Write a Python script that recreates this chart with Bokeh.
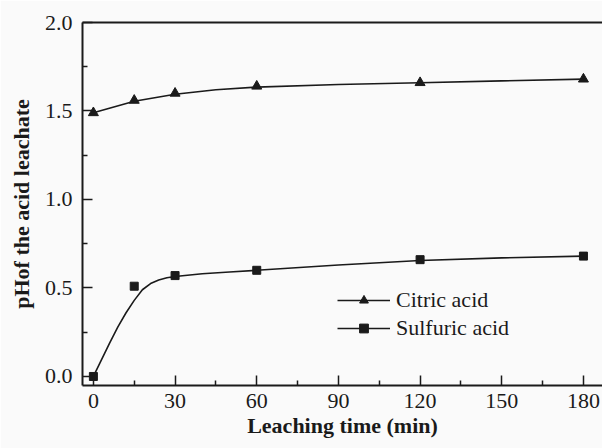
from bokeh.plotting import figure
from bokeh.models import (Range1d, LinearAxis, FixedTicker, Legend, LegendItem,
                          CustomJSTickFormatter)
from bokeh.embed import file_html
from bokeh.resources import INLINE

# measured points
time_min = [0, 15, 30, 60, 120, 180]
citric = [1.49, 1.56, 1.60, 1.64, 1.66, 1.68]
sulfuric = [0.00, 0.51, 0.57, 0.60, 0.66, 0.68]

# fitted curves
fit_time_citric = [0, 15, 30, 45, 60, 90, 120, 150, 180]
fit_citric = [1.49, 1.555, 1.595, 1.62, 1.635, 1.65, 1.66, 1.67, 1.68]
fit_time_sulf = [0, 3, 6, 9, 12, 15, 18, 21, 24, 27, 30, 40, 50, 60, 90, 120, 150, 180]
fit_sulf = [0.0, 0.095, 0.19, 0.28, 0.36, 0.43, 0.49, 0.525, 0.545, 0.558, 0.565,
            0.58, 0.59, 0.60, 0.63, 0.655, 0.67, 0.68]

x_ticks = [0, 30, 60, 90, 120, 150, 180]
x_minor = [15, 45, 75, 105, 135, 165]
y_ticks = [0.0, 0.5, 1.0, 1.5, 2.0]
y_minor = [0.25, 0.75, 1.25, 1.75]

FONT = "Liberation Serif"
BG = "#fafafa"
INK = "#1a1a1a"

p = figure(frame_width=520, frame_height=363, output_backend="svg", toolbar_location=None,
           x_range=Range1d(-4.0, 187.0), y_range=Range1d(-0.051, 2.0),
           min_border_left=82, min_border_right=0, min_border_top=22, min_border_bottom=63)
p.background_fill_color = BG
p.border_fill_color = BG
p.outline_line_color = None
p.grid.visible = False

l1 = p.line(fit_time_citric, fit_citric, line_color=INK, line_width=1.6)
s1 = p.scatter(time_min, citric, marker="triangle", size=10, fill_color=INK, line_color=INK)
l2 = p.line(fit_time_sulf, fit_sulf, line_color=INK, line_width=1.6)
s2 = p.scatter(time_min, sulfuric, marker="square", size=8, fill_color=INK, line_color=INK)

for ax in (p.xaxis[0], p.yaxis[0]):
    ax.axis_line_width = 2
    ax.axis_line_color = INK
    ax.major_tick_in = 10
    ax.major_tick_out = 0
    ax.minor_tick_in = 5
    ax.minor_tick_out = 0
    ax.major_tick_line_width = 1.5
    ax.minor_tick_line_width = 1.5
    ax.major_tick_line_color = INK
    ax.minor_tick_line_color = INK
    ax.major_label_text_font = FONT
    ax.major_label_text_font_size = "22px"
    ax.major_label_text_color = INK
    ax.axis_label_text_font = FONT
    ax.axis_label_text_font_size = "22px"
    ax.axis_label_text_font_style = "bold"
    ax.axis_label_text_color = INK

p.xaxis[0].ticker = FixedTicker(ticks=x_ticks, minor_ticks=x_minor)
p.yaxis[0].ticker = FixedTicker(ticks=y_ticks, minor_ticks=y_minor)
p.yaxis[0].formatter = CustomJSTickFormatter(code="return tick.toFixed(1);")
p.xaxis[0].axis_label = "Leaching time (min)"
p.yaxis[0].axis_label = "pHof the acid leachate"
p.xaxis[0].major_label_standoff = 8
p.xaxis[0].axis_label_standoff = 2
p.yaxis[0].major_label_standoff = 10
p.yaxis[0].axis_label_standoff = 8

top = LinearAxis(ticker=FixedTicker(ticks=[]), major_label_text_font_size="0px",
                 major_tick_in=0, major_tick_out=0, minor_tick_in=0, minor_tick_out=0,
                 axis_line_width=2, axis_line_color=INK)
p.add_layout(top, "above")

legend = Legend(items=[LegendItem(label="Citric acid", renderers=[l1, s1]),
                       LegendItem(label="Sulfuric acid", renderers=[l2, s2])],
                location=(255, 44), glyph_width=53, glyph_height=22, label_height=22,
                spacing=2, padding=0, margin=0, label_standoff=6,
                label_text_font=FONT, label_text_font_size="22px", label_text_color=INK,
                border_line_color=None, background_fill_alpha=0)
p.add_layout(legend, "center")

open("out.html", "w").write(file_html(p, INLINE))
